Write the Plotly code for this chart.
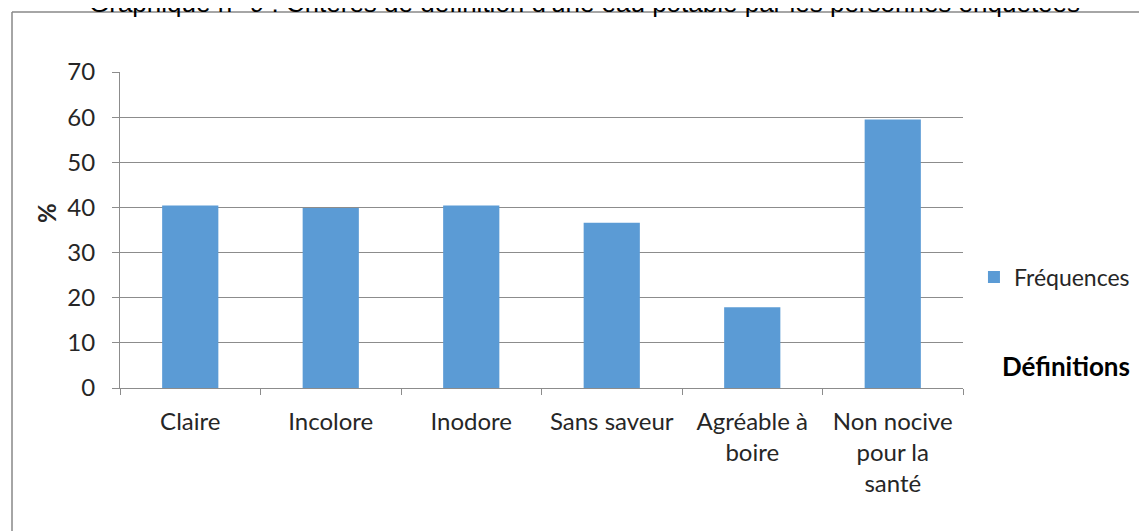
"""Bar chart: criteria for defining drinking water (survey frequencies)."""

import plotly.graph_objects as go

categories = [
    "Claire",
    "Incolore",
    "Inodore",
    "Sans saveur",
    "Agréable à<br>boire",
    "Non nocive<br>pour la<br>santé",
]
frequences = [40.4, 39.9, 40.4, 36.6, 17.9, 59.5]
y_ticks = [0, 10, 20, 30, 40, 50, 60, 70]

title_text = "Graphique n° 9 : Critères de définition d'une eau potable par les personnes enquêtées"
series_name = "Fréquences"
x_title = "Définitions"
y_title = "%"

bar_color = "#5B9BD5"
grid_color = "#8C8C8C"
label_font = "Lato, 'Open Sans', sans-serif"

fig = go.Figure()
fig.add_trace(
    go.Bar(
        x=categories,
        y=frequences,
        name=series_name,
        marker={"color": bar_color, "line": {"width": 0}},
        showlegend=True,
    )
)

# the page body has an 8px margin, so the figure margins are shifted to keep
# the plot area where it sits in the original page
fig.update_layout(
    width=1147,
    height=531,
    margin={"l": 112, "r": 192, "t": 64, "b": 151},
    paper_bgcolor="white",
    plot_bgcolor="white",
    bargap=0.6,
    font={"family": label_font, "size": 24, "color": "#262626"},
    showlegend=True,
    legend={
        "x": 1.013,
        "y": 0.351,
        "xanchor": "left",
        "yanchor": "middle",
        "font": {"size": 23, "color": "#262626"},
        "bgcolor": "rgba(0,0,0,0)",
    },
    xaxis={
        "type": "category",
        "showline": True,
        "linecolor": grid_color,
        "linewidth": 1,
        "ticks": "outside",
        "tickson": "boundaries",
        "ticklen": 6,
        "tickcolor": grid_color,
        "showgrid": False,
        "ticklabelstandoff": 12,
        "tickfont": {"size": 24},
    },
    yaxis={
        "range": [0, 70],
        "tickvals": y_ticks,
        "showline": True,
        "linecolor": grid_color,
        "linewidth": 1,
        "ticks": "outside",
        "ticklen": 7,
        "tickcolor": grid_color,
        "showgrid": True,
        "gridcolor": grid_color,
        "gridwidth": 1,
        "zeroline": False,
        "ticklabelstandoff": 12,
        "tickfont": {"size": 24},
    },
    annotations=[
        {
            "text": title_text,
            "xref": "paper",
            "yref": "paper",
            "x": 0.5516,
            "y": 1.218,
            "xanchor": "center",
            "yanchor": "middle",
            "showarrow": False,
            "font": {"family": "Liberation Sans, Arial, sans-serif", "size": 26, "color": "black"},
        },
        {
            # y-axis title sits a little above the middle of the axis
            "text": f"<b>{y_title}</b>",
            "xref": "paper",
            "yref": "paper",
            "x": -0.0866,
            "y": 0.554,
            "xanchor": "center",
            "yanchor": "middle",
            "textangle": -90,
            "showarrow": False,
            "font": {"size": 24, "color": "#262626"},
        },
        {
            "text": f"<b>{x_title}</b>",
            "xref": "paper",
            "yref": "paper",
            "x": 1.122,
            "y": 0.0696,
            "xanchor": "center",
            "yanchor": "middle",
            "showarrow": False,
            "font": {"size": 26, "color": "black"},
        },
    ],
    shapes=[
        # outer chart frame (only its left and top edges fall inside the page)
        {
            "type": "line",
            "xref": "paper",
            "yref": "paper",
            "x0": -0.1281,
            "x1": -0.1281,
            "y0": 1.19,
            "y1": -0.6,
            "line": {"color": "#888888", "width": 1.5},
        },
        {
            "type": "line",
            "xref": "paper",
            "yref": "paper",
            "x0": -0.1281,
            "x1": 1.3,
            "y0": 1.19,
            "y1": 1.19,
            "line": {"color": "#888888", "width": 1.5},
        },
    ],
)

fig.write_html("out.html")
